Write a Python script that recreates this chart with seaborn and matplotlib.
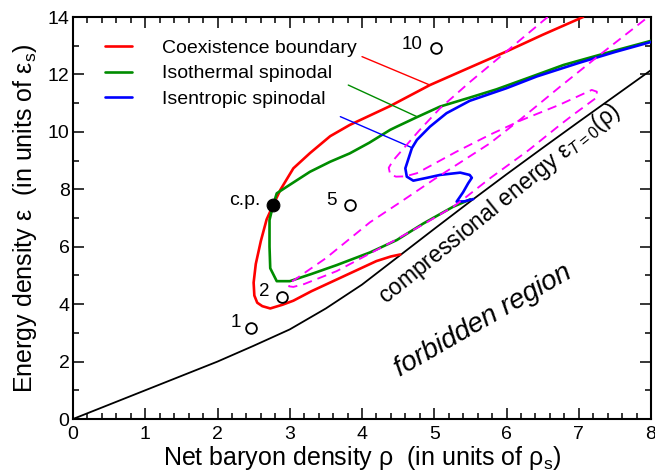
import numpy as np
import pandas as pd
import matplotlib
matplotlib.use("Agg")
import matplotlib.pyplot as plt
import seaborn as sns
from matplotlib.lines import Line2D
from matplotlib.ticker import MultipleLocator

# ---------------- data ----------------
# compressional energy eps_{T=0}(rho)
rho_T0 = [0, 0.5, 1, 1.5, 2, 2.5, 3, 3.5, 4, 4.5, 5, 5.5, 6, 6.5, 7, 7.5, 8]
eps_T0 = [0, 0.5, 1.0, 1.5, 2.0, 2.55, 3.12, 3.85, 4.68, 5.65, 6.62, 7.58, 8.52, 9.44, 10.35, 11.25, 12.15]

# coexistence boundary
coex_rho = [7.06, 6.5, 6.0, 5.5, 4.94, 4.39, 3.83, 3.56, 3.28, 3.05, 2.87, 2.77, 2.68, 2.60, 2.53,
            2.50, 2.51, 2.55, 2.62, 2.73, 2.90, 3.05, 3.3, 3.6, 3.9, 4.2, 4.4, 4.53]
coex_eps = [14.0, 13.38, 12.8, 12.25, 11.63, 10.9, 10.24, 9.85, 9.26, 8.73, 7.98, 7.45, 6.95, 6.2, 5.4,
            4.75, 4.3, 4.05, 3.93, 3.85, 3.98, 4.12, 4.45, 4.8, 5.15, 5.5, 5.66, 5.73]

# isothermal spinodal
iso_rho = [8.0, 7.5, 6.79, 6.3, 5.86, 5.5, 5.08, 4.75, 4.48, 4.39, 4.1, 3.83, 3.56, 3.28, 2.96, 2.82,
           2.77, 2.72, 2.72, 2.73, 2.82, 3.0, 3.3, 3.65, 4.11, 4.48, 4.85, 5.26, 5.5]
iso_eps = [13.17, 12.83, 12.33, 11.88, 11.48, 11.2, 10.88, 10.5, 10.18, 10.07, 9.62, 9.25, 8.96, 8.61,
           8.09, 7.86, 7.45, 6.93, 6.0, 5.25, 4.80, 4.80, 5.05, 5.36, 5.8, 6.23, 6.81, 7.39, 7.65]

# isentropic spinodal
isen_rho = [8.0, 7.5, 7.0, 6.42, 6.0, 5.49, 5.17, 4.94, 4.76, 4.69, 4.6, 4.62, 4.71, 4.9, 5.08, 5.36,
            5.49, 5.52, 5.47, 5.40, 5.31, 5.42, 5.54]
isen_eps = [13.13, 12.78, 12.40, 11.93, 11.52, 11.08, 10.65, 10.18, 9.72, 9.43, 8.73, 8.44, 8.3, 8.4,
            8.5, 8.58, 8.5, 8.4, 8.21, 7.9, 7.57, 7.58, 7.66]

# dashed magenta trajectory
traj_rho = [6.57, 6.0, 5.5, 5.08, 4.80, 4.55, 4.43, 4.37, 4.39, 4.47, 4.6, 4.76, 5.3, 5.77, 6.2, 6.74,
            7.18, 7.25, 7.25, 6.92, 6.74, 6.3, 5.77, 5.4, 5.26, 4.85, 4.4, 3.65, 3.2, 3.05, 2.99, 2.99,
            3.05, 3.5, 4.11, 4.53, 5.0, 5.77, 6.2, 6.74, 7.3, 7.96]
traj_eps = [14.0, 12.8, 11.75, 10.82, 10.07, 9.35, 9.0, 8.75, 8.52, 8.44, 8.45, 8.56, 9.3, 9.9, 10.4,
            10.95, 11.46, 11.4, 11.2, 10.59, 10.24, 9.35, 8.38, 7.65, 7.39, 6.78, 6.15, 5.15, 4.7, 4.6,
            4.62, 4.75, 4.82, 5.6, 6.85, 7.55, 8.35, 9.6, 10.45, 11.57, 12.7, 14.0]

# critical point and marked states
cp_rho, cp_eps = [2.77], [7.45]
pt_labels = ["1", "2", "5", "10"]
pt_rho = [2.47, 2.89, 3.83, 5.03]
pt_eps = [3.16, 4.26, 7.45, 12.91]

legend_labels = ["Coexistence boundary", "Isothermal spinodal", "Isentropic spinodal"]
colors = {"coex": "#ff0000", "iso": "#008c00", "isen": "#0000ff", "traj": "#ff00ff"}

# ---------------- style ----------------
sns.set_theme(style="ticks")
plt.rcParams.update({
    "font.family": ["Liberation Sans", "DejaVu Sans"],
    "mathtext.fontset": "custom",
    "mathtext.rm": "Liberation Sans",
    "mathtext.it": "Liberation Sans:italic",
    "mathtext.bf": "Liberation Sans:bold",
    "axes.edgecolor": "black",
    "text.color": "black",
    "axes.labelcolor": "black",
    "xtick.color": "black",
    "ytick.color": "black",
})

fig = plt.figure(figsize=(6.55, 4.74), dpi=100)
ax = fig.add_axes([73 / 655, 1 - 419 / 474, (651 - 73) / 655, (419 - 17) / 474])

def line(x, y, **kw):
    df = pd.DataFrame({"x": x, "y": y})
    sns.lineplot(data=df, x="x", y="y", sort=False, estimator=None, ax=ax, legend=False, **kw)

line(rho_T0, eps_T0, color="black", lw=1.3, zorder=2)
line(coex_rho, coex_eps, color=colors["coex"], lw=1.9, zorder=3)
line(iso_rho, iso_eps, color=colors["iso"], lw=1.9, zorder=3)
line(isen_rho, isen_eps, color=colors["isen"], lw=1.9, zorder=4)
line(traj_rho, traj_eps, color=colors["traj"], lw=1.35, linestyle=(0, (5.0, 3.2)), zorder=5)

sns.scatterplot(x=pt_rho, y=pt_eps, marker="o", s=60, facecolor="white", edgecolor="black",
                linewidth=1.3, ax=ax, zorder=6, legend=False)
sns.scatterplot(x=cp_rho, y=cp_eps, marker="o", s=85, color="black", edgecolor="black",
                ax=ax, zorder=7, legend=False)

# labels for the points
offsets = {"1": (-0.22, 0.20), "2": (-0.24, 0.18), "5": (-0.25, 0.15), "10": (-0.34, 0.12)}
for lab, xv, yv in zip(pt_labels, pt_rho, pt_eps):
    dx, dy = offsets[lab]
    ax.text(xv + dx, yv + dy, lab, ha="center", va="center", fontsize=13.5)
ax.text(cp_rho[0] - 0.18, cp_eps[0] + 0.15, "c.p.", ha="right", va="center", fontsize=14)

# legend
handles = [Line2D([], [], color=colors[k], lw=1.9) for k in ("coex", "iso", "isen")]
ax.legend(handles, legend_labels, loc="upper left", bbox_to_anchor=(0.055, 0.945), frameon=False,
          fontsize=14, handlelength=1.4, handletextpad=1.55, labelspacing=0.42,
          borderpad=0, borderaxespad=0)

# leader lines from legend to curves
ax.annotate("", xy=(4.94, 11.63), xytext=(4.0, 12.62),
            arrowprops=dict(arrowstyle="-", color=colors["coex"], lw=1.0, shrinkA=0, shrinkB=0))
ax.annotate("", xy=(4.76, 10.53), xytext=(3.81, 11.63),
            arrowprops=dict(arrowstyle="-", color=colors["iso"], lw=1.0, shrinkA=0, shrinkB=0))
ax.annotate("", xy=(4.69, 9.45), xytext=(3.70, 10.53),
            arrowprops=dict(arrowstyle="-", color=colors["isen"], lw=1.0, shrinkA=0, shrinkB=0))

# region texts
ax.text(5.9, 7.5, r"compressional energy $\mathregular{ε}_{\mathit{T}\mathregular{=0}}\mathregular{(ρ)}$",
        rotation=39, ha="center", va="center", fontsize=16.5, rotation_mode="anchor")
ax.text(5.68, 3.42, "forbidden region", style="italic", rotation=30, ha="center", va="center",
        fontsize=20, rotation_mode="anchor")

# axes
ax.set_xlim(0, 8)
ax.set_ylim(0, 14)
ax.xaxis.set_major_locator(MultipleLocator(1))
ax.xaxis.set_minor_locator(MultipleLocator(0.2))
ax.yaxis.set_major_locator(MultipleLocator(2))
ax.yaxis.set_minor_locator(MultipleLocator(1))
ax.tick_params(which="both", direction="in", top=True, right=True, width=1.1)
ax.tick_params(which="major", length=8)
ax.tick_params(which="minor", length=4.3)
ax.tick_params(axis="x", which="major", pad=5, labelsize=14)
ax.tick_params(axis="y", which="major", pad=2.5, labelsize=14)
for sp in ax.spines.values():
    sp.set_linewidth(1.5)
    sp.set_visible(True)

ax.set_xlabel(r"Net baryon density ρ  (in units of $\mathregular{ρ_s}$)", fontsize=18, labelpad=1)
ax.set_ylabel(r"Energy density ε  (in units of $\mathregular{ε_s}$)", fontsize=18, labelpad=6)

fig.savefig("out.png", dpi=100)
